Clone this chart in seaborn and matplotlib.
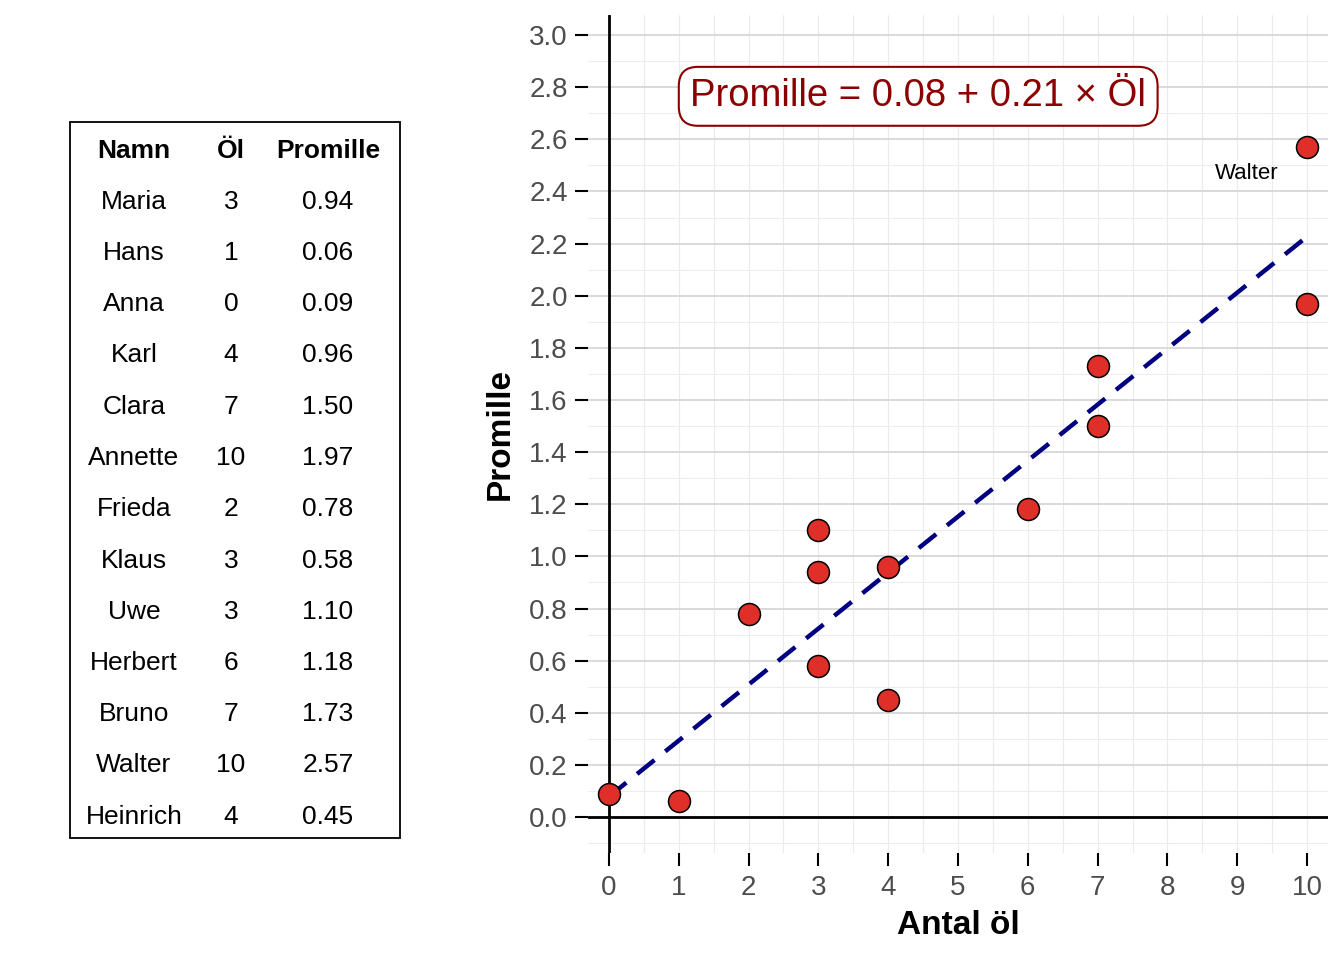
import matplotlib
matplotlib.use("Agg")
import matplotlib.pyplot as plt
from matplotlib.patches import Rectangle
from matplotlib.ticker import MultipleLocator
import numpy as np
import pandas as pd
import seaborn as sns

# data (table on the left, same values in the scatter)
namn = ["Maria", "Hans", "Anna", "Karl", "Clara", "Annette", "Frieda",
        "Klaus", "Uwe", "Herbert", "Bruno", "Walter", "Heinrich"]
ol = [3, 1, 0, 4, 7, 10, 2, 3, 3, 6, 7, 10, 4]
promille = [0.94, 0.06, 0.09, 0.96, 1.50, 1.97, 0.78, 0.58, 1.10, 1.18, 1.73, 2.57, 0.45]
headers = ["Namn", "Öl", "Promille"]
label_name = "Walter"

df = pd.DataFrame({"Namn": namn, "Ol": ol, "Promille": promille})

# fitted line for the equation text
slope, intercept = np.polyfit(df["Ol"], df["Promille"], 1)
eq_text = f"Promille = {intercept:.2f} + {slope:.2f} × Öl"

sns.set_theme(style="white")
plt.rcParams["font.family"] = ["Liberation Sans", "DejaVu Sans"]
plt.rcParams["lines.scale_dashes"] = False

fig = plt.figure(figsize=(13.44, 9.6), dpi=100)
ax = fig.add_axes([588 / 1344, 107 / 960, 740 / 1344, 838 / 960])

# grid
ax.set_xlim(-0.3, 10.3)
ax.set_ylim(-0.138, 3.077)
ax.xaxis.set_major_locator(MultipleLocator(1))
ax.xaxis.set_minor_locator(MultipleLocator(0.5))
ax.yaxis.set_major_locator(MultipleLocator(0.2))
ax.yaxis.set_minor_locator(MultipleLocator(0.1))
ax.grid(True, which="major", axis="y", color="#D9D9D9", lw=1.4, zorder=0)
ax.grid(True, which="minor", axis="y", color="#EDEDED", lw=0.8, zorder=0)
ax.grid(True, which="both", axis="x", color="#EBEBEB", lw=0.8, zorder=0)
ax.set_axisbelow(True)

# reference lines at 0
ax.axhline(0, color="black", lw=2, zorder=1)
ax.axvline(0, color="black", lw=2, zorder=1)

# regression line
sns.regplot(data=df, x="Ol", y="Promille", ax=ax, scatter=False, ci=None,
            line_kws=dict(color="#000080", lw=3.2, dashes=(16, 10), zorder=2))

# points
sns.scatterplot(data=df, x="Ol", y="Promille", ax=ax, s=250, color="#DF2F28",
                edgecolor="black", linewidth=1.1, zorder=3, legend=False)

# label for one point
row = df[df["Namn"] == label_name].iloc[0]
ax.text(row["Ol"] - 0.86, row["Promille"] - 0.1, label_name, fontsize=16,
        ha="center", va="center", color="black", zorder=4)

# equation box
ax.text(4.43, 2.765, eq_text, fontsize=27.5, color="#8B0000", ha="center",
        va="center", zorder=5,
        bbox=dict(boxstyle="round,pad=0.3,rounding_size=0.5", fc="white",
                  ec="#8B0000", lw=1.5))

for s in ax.spines.values():
    s.set_visible(False)
ax.tick_params(axis="both", which="major", direction="out", length=9.5,
               width=1.5, color="black", labelcolor="#4D4D4D", labelsize=20,
               left=True, bottom=True)
ax.tick_params(axis="x", pad=6)
ax.tick_params(axis="y", pad=5)
ax.tick_params(which="minor", length=0)
ax.set_yticks(np.arange(0, 3.01, 0.2))
ax.set_yticklabels([f"{v:.1f}" for v in np.arange(0, 3.01, 0.2)])

ax.set_xlabel("Antal öl", fontsize=24, fontweight="bold", color="black")
ax.set_ylabel("Promille", fontsize=24, fontweight="bold", color="black")
ax.xaxis.label.set_va("center")
ax.yaxis.label.set_va("center")
ax.xaxis.set_label_coords(0.5, -0.086)
ax.yaxis.set_label_coords(-0.119, 0.5)

# table on the left
tab = fig.add_axes([0, 0, 1, 1], zorder=-1)
tab.set_xlim(0, 1344)
tab.set_ylim(960, 0)
tab.axis("off")
tab.add_patch(Rectangle((70, 122), 330, 716, fill=False, ec="black", lw=1.3))
col_x = [134, 231, 328]
row0, step = 148, 51.25
for j, h in enumerate(headers):
    tab.text(col_x[j], row0, h, fontsize=19, fontweight="bold", ha="center",
             va="center_baseline", color="black")
for i in range(len(namn)):
    y = row0 + (i + 1) * step
    vals = [namn[i], str(ol[i]), f"{promille[i]:.2f}"]
    for j, v in enumerate(vals):
        tab.text(col_x[j], y, v, fontsize=19, ha="center",
                 va="center_baseline", color="black")

fig.savefig("out.png", dpi=100)
